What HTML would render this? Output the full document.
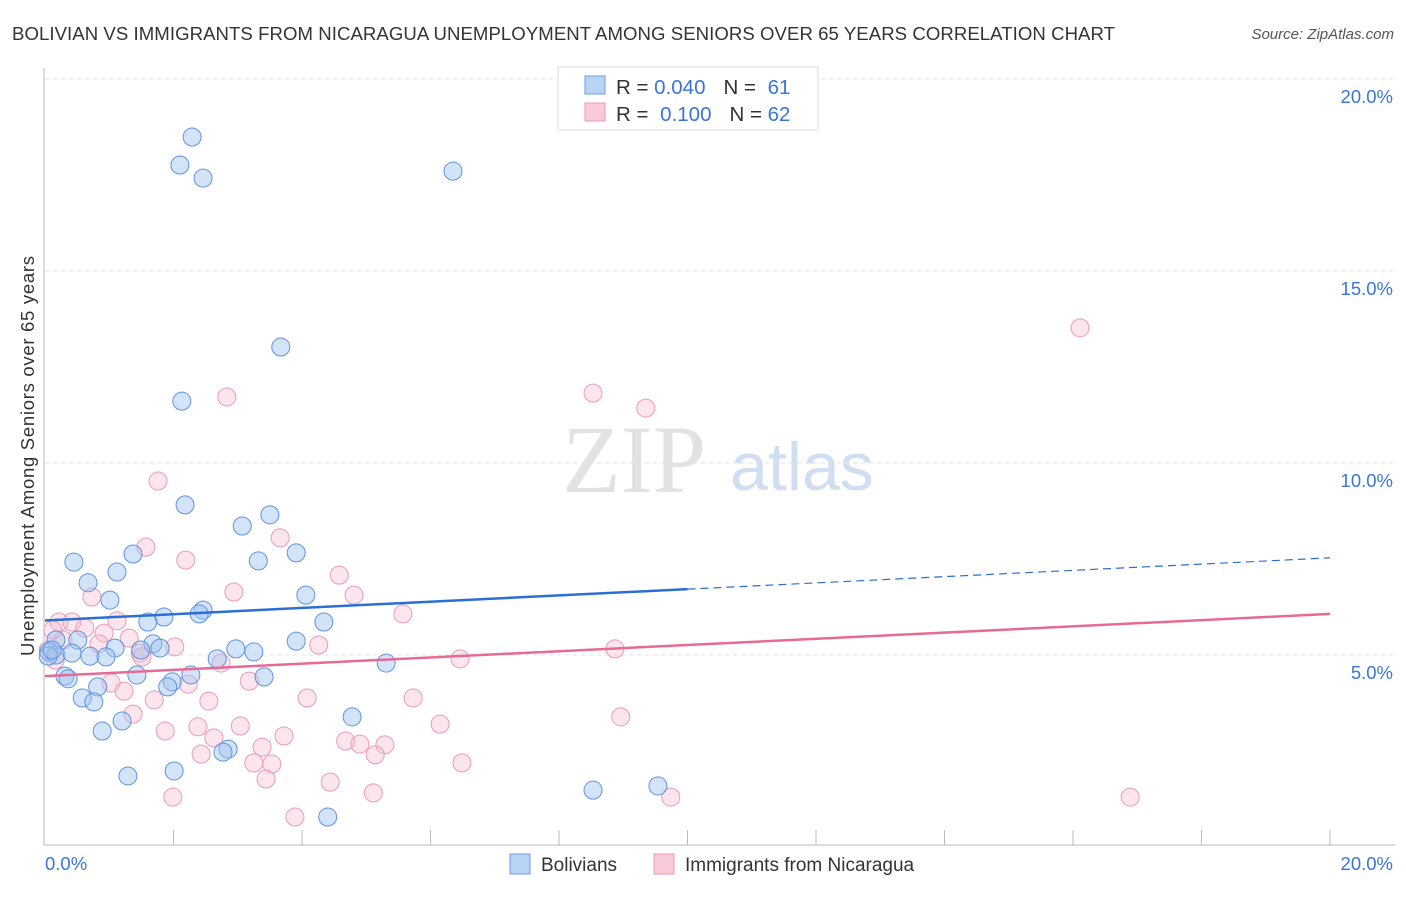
<!DOCTYPE html>
<html><head><meta charset="utf-8"><style>
body{margin:0;background:#fff;font-family:"Liberation Sans",sans-serif}
</style></head><body>
<svg id="c" width="1406" height="892" xmlns="http://www.w3.org/2000/svg">
<text x="12" y="40" font-size="18.6" fill="#333" textLength="1103">BOLIVIAN VS IMMIGRANTS FROM NICARAGUA UNEMPLOYMENT AMONG SENIORS OVER 65 YEARS CORRELATION CHART</text>
<text x="1394" y="39" font-size="15" fill="#555" font-style="italic" text-anchor="end">Source: ZipAtlas.com</text>
<text x="634" y="492" font-size="96" fill="#e2e2e2" font-family="Liberation Serif,serif" text-anchor="middle">ZIP</text>
<text x="802" y="490" font-size="68" fill="#d0def2" text-anchor="middle">atlas</text>
<text transform="translate(34,456) rotate(-90)" font-size="18.5" fill="#333" text-anchor="middle" textLength="400">Unemployment Among Seniors over 65 years</text>
<g id="grid"></g><g id="marks"></g>
<g>
<rect x="558" y="67" width="260" height="63" fill="#fff" stroke="#ddd"/>
<rect x="585" y="76" width="20" height="18" fill="#b8d4f5" stroke="#6d9ee0"/>
<rect x="585" y="103" width="20" height="18" fill="#f9cbd8" stroke="#eb9ab4"/>
<text x="616" y="94" font-size="20.5" fill="#333">R = <tspan fill="#3a75d8">0.040</tspan><tspan dx="18">N = </tspan><tspan fill="#3a75d8" dx="6">61</tspan></text>
<text x="616" y="121" font-size="20.5" fill="#333">R = <tspan fill="#3a75d8" dx="6">0.100</tspan><tspan dx="18">N = </tspan><tspan fill="#3a75d8">62</tspan></text>
</g>
<g>
<rect x="510" y="854" width="20" height="20" fill="#b8d4f5" stroke="#6d9ee0"/>
<text x="541" y="871" font-size="19" fill="#333">Bolivians</text>
<rect x="654" y="854" width="20" height="20" fill="#f9cbd8" stroke="#eb9ab4"/>
<text x="685" y="871" font-size="19" fill="#333">Immigrants from Nicaragua</text>
</g>
</svg>
<script>
const yTicks=[5,10,15,20];
const xTickLabels=["0.0%","20.0%"];
const blueX=[2.29,2.10,2.46,6.35,3.67,2.13,2.18,3.07,3.50,1.37,0.45,3.91,3.32,1.12,0.67,4.06,1.01,2.46,2.40,1.85,1.60,4.34,3.91,0.17,0.51,1.68,1.79,2.97,3.25,1.49,1.09,0.06,0.17,0.42,0.70,0.95,2.68,5.31,0.05,0.31,0.36,1.43,2.27,1.98,3.41,0.82,1.91,0.58,0.76,1.20,4.78,0.89,2.85,2.77,1.29,2.01,8.53,9.54,4.40,0.11];
const blueY=[18.49,17.76,17.42,17.60,13.02,11.61,8.91,8.36,8.65,7.63,7.42,7.66,7.45,7.16,6.88,6.56,6.43,6.17,6.07,5.99,5.86,5.86,5.36,5.39,5.39,5.29,5.18,5.16,5.08,5.13,5.18,5.08,5.00,5.05,4.97,4.95,4.90,4.79,4.97,4.45,4.38,4.48,4.48,4.30,4.43,4.17,4.17,3.88,3.78,3.28,3.39,3.02,2.55,2.47,1.85,1.98,1.48,1.59,0.78,5.13];
const pinkX=[16.11,8.53,2.83,9.35,1.76,3.66,1.57,2.19,4.58,2.94,4.81,0.73,5.57,1.12,0.22,0.42,0.62,0.92,1.31,0.84,2.02,4.26,1.48,0.28,0.12,0.05,0.16,2.74,8.87,6.46,1.51,1.03,1.23,3.18,2.23,4.08,5.73,2.55,1.70,1.37,8.96,2.38,1.87,3.04,6.15,3.72,4.68,5.29,4.90,2.63,3.38,5.14,2.43,3.25,3.53,6.49,3.44,4.44,5.11,1.99,9.74,16.89,3.89];
const pinkY=[13.52,11.82,11.72,11.43,9.53,8.05,7.81,7.47,7.08,6.64,6.56,6.51,6.07,5.89,5.86,5.86,5.70,5.57,5.44,5.29,5.21,5.26,5.05,5.39,5.65,5.13,4.87,4.79,5.16,4.90,4.95,4.27,4.06,4.32,4.24,3.88,3.88,3.80,3.83,3.46,3.39,3.13,3.02,3.15,3.20,2.89,2.76,2.66,2.68,2.84,2.60,2.40,2.42,2.19,2.16,2.19,1.77,1.69,1.41,1.30,1.30,1.30,0.78];
const blueTrend=[5.9,7.53];
const pinkTrend=[4.45,6.07];
const NS="http://www.w3.org/2000/svg";
const sx=v=>45+v*64.25, sy=v=>847-v*38.4;
function mk(t,a,p){const e=document.createElementNS(NS,t);for(const k in a)e.setAttribute(k,a[k]);p.appendChild(e);return e;}
const g=document.getElementById('grid'),m=document.getElementById('marks');
yTicks.forEach(t=>{
 const l=mk('line',{x1:45,x2:1395,y1:sy(t),y2:sy(t),stroke:'#e2e2e2','stroke-dasharray':'4,4'},g);
 
 
 const tx=mk('text',{x:1393,y:sy(t)+24,'font-size':18.5,fill:'#3a75d8','text-anchor':'end'},g);
 tx.textContent=t.toFixed(1)+'%';
 
 
});
mk('line',{x1:44,x2:44,y1:68,y2:845,stroke:'#bbb'},g);
mk('line',{x1:44,x2:1395,y1:845,y2:845,stroke:'#bbb'},g);
for(let i=1;i<=10;i++){const t=mk('line',{x1:sx(i*2),x2:sx(i*2),y1:830,y2:845,stroke:'#bbb'},g);
 
 }
[[0,'start',45],[1,'end',1393]].forEach(([i,a,x])=>{const t=mk('text',{x:x,y:870,'font-size':18.5,fill:'#3a75d8','text-anchor':a},g);t.textContent=xTickLabels[i];
 
 });
function pts(X,Y,fill,stroke,name){X.forEach((x,i)=>{const c=mk('circle',{cx:sx(x),cy:sy(Y[i]),r:9,fill:fill,stroke:stroke,'stroke-width':1},m);
 
 });}
pts(pinkX,pinkY,'rgba(248,190,210,0.4)','#ec9bb5','nicaragua-point');
pts(blueX,blueY,'rgba(160,196,240,0.45)','#5f93e0','bolivian-point');
const at=(tr,x)=>tr[0]+(tr[1]-tr[0])*x/20;
let l=mk('line',{x1:sx(0),y1:sy(at(blueTrend,0)),x2:sx(10),y2:sy(at(blueTrend,10)),stroke:'#2a6fd6','stroke-width':2.5},m);


l=mk('line',{x1:sx(10),y1:sy(at(blueTrend,10)),x2:sx(20),y2:sy(at(blueTrend,20)),stroke:'#2a6fd6','stroke-width':1.2,'stroke-dasharray':'8,5'},m);


l=mk('line',{x1:sx(0),y1:sy(at(pinkTrend,0)),x2:sx(20),y2:sy(at(pinkTrend,20)),stroke:'#e56a94','stroke-width':2.5},m);


</script>
</body></html>
